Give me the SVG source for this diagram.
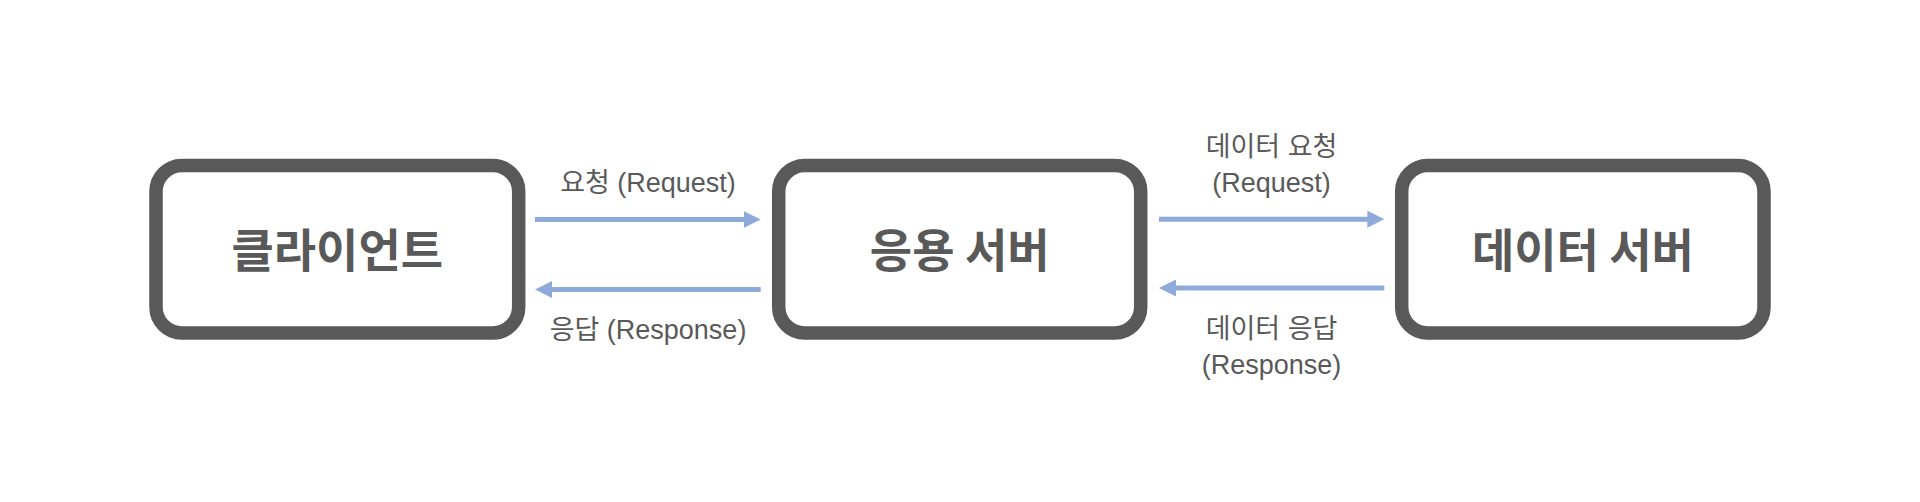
<svg xmlns="http://www.w3.org/2000/svg" width="1920" height="502" viewBox="0 0 1920 502">
<style>
.box{fill:#ffffff;stroke:#595959;stroke-width:13.5}
.title{font-family:"Noto Sans CJK KR","Liberation Sans",sans-serif;font-size:46px;font-weight:bold;fill:#595959;text-anchor:middle}
.lbl{font-family:"Liberation Sans","Noto Sans CJK KR",sans-serif;font-size:27px;fill:#595959;text-anchor:middle}
.arr{stroke:#8eaadb;stroke-width:5;fill:none;marker-end:url(#ah)}
</style>
<defs>
<marker id="ah" markerUnits="userSpaceOnUse" markerWidth="17" markerHeight="17" refX="3" refY="8.5" orient="auto">
<path d="M0,0 L17,8.5 L0,17 Z" fill="#8eaadb"/>
</marker>
</defs>
<rect width="1920" height="502" fill="#ffffff"/>
<g id="client">
<rect class="box" x="156" y="165.5" width="362.7" height="167.5" rx="26"/>
<text class="title" x="337.3" y="267">클라이언트</text>
</g>
<g id="app-server">
<rect class="box" x="778.7" y="165.5" width="362" height="167.5" rx="26"/>
<text class="title" x="959.7" y="267">응용 서버</text>
</g>
<g id="data-server">
<rect class="box" x="1401.7" y="165.5" width="362.3" height="167.5" rx="26"/>
<text class="title" x="1582.9" y="267">데이터 서버</text>
</g>
<g id="connectors">
<line class="arr" x1="535" y1="219.5" x2="746.7" y2="219.5"/>
<line class="arr" x1="760.7" y1="289.5" x2="549" y2="289.5"/>
<line class="arr" x1="1159" y1="219.2" x2="1370.3" y2="219.2"/>
<line class="arr" x1="1384.3" y1="288" x2="1173" y2="288"/>
<text class="lbl" x="648" y="191.5">요청 (Request)</text>
<text class="lbl" x="648" y="339">응답 (Response)</text>
<text class="lbl" x="1271.5" y="156">데이터 요청</text>
<text class="lbl" x="1271.5" y="191.5">(Request)</text>
<text class="lbl" x="1271.5" y="338">데이터 응답</text>
<text class="lbl" x="1271.5" y="374">(Response)</text>
</g>
</svg>
